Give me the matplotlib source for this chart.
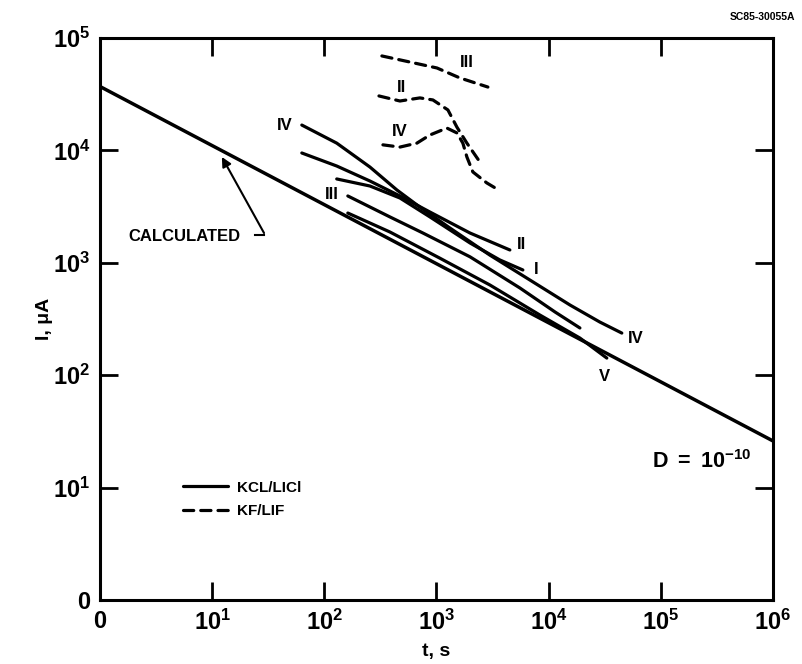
import numpy as np
import matplotlib.pyplot as plt

plt.rcParams['font.family'] = ['Liberation Sans', 'DejaVu Sans']
plt.rcParams['font.weight'] = 'bold'
plt.rcParams['axes.labelweight'] = 'bold'
plt.rcParams['mathtext.fontset'] = 'custom'
plt.rcParams['mathtext.rm'] = 'Liberation Sans:bold'
plt.rcParams['mathtext.it'] = 'Liberation Sans:bold'
plt.rcParams['mathtext.bf'] = 'Liberation Sans:bold'
plt.rcParams['mathtext.default'] = 'rm'

# calculated curve, D = 1e-10
calc_t = [1, 1e6]
calc_i = [3.7e4, 26]

# KCl/LiCl runs (solid)
t_iv = [63, 129, 255, 444, 711, 1316, 2992, 6.8e3, 1.55e4, 2.86e4, 4.49e4]
i_iv = [1.68e4, 1.16e4, 7.11e3, 4.44e3, 3.13e3, 2.04e3, 1.17e3, 703, 421, 297, 237]
t_ii = [63, 129, 255, 472, 873, 1990, 4510]
i_ii = [9.48e3, 7.26e3, 5.34e3, 3.93e3, 2.83e3, 1.84e3, 1.30e3]
t_i = [129, 255, 472, 873, 1990, 3670, 5890]
i_i = [5.57e3, 4.82e3, 3.77e3, 2.56e3, 1.50e3, 1.06e3, 863]
t_iii = [162, 384, 757, 1990, 5540, 1.14e4, 1.90e4]
i_iii = [3.93e3, 2.56e3, 1.84e3, 1.13e3, 597, 365, 263]
t_v = [162, 384, 1070, 2990, 8350, 1.90e4, 3.30e4]
i_v = [2.77e3, 1.88e3, 1.10e3, 635, 343, 214, 142]

# KF/LiF runs (dashed)
tf_iii = [326, 579, 1009, 1617, 2872]
if_iii = [6.92e4, 6.11e4, 5.41e4, 4.41e4, 3.66e4]
tf_ii = [307, 472, 711, 929, 1264, 1521, 1867, 2438]
if_ii = [3.05e4, 2.75e4, 2.93e4, 2.81e4, 2.29e4, 1.61e4, 1.16e4, 7.88e3]
tf_iv = [333, 472, 669, 873, 1238, 1521, 1719, 1867, 2110, 2812, 3452]
if_iv = [1.12e4, 1.07e4, 1.16e4, 1.37e4, 1.58e4, 1.43e4, 1.16e4, 8.73e3, 6.43e3, 5.13e3, 4.54e3]

xticks = [1, 1e1, 1e2, 1e3, 1e4, 1e5, 1e6]
xlabels = ['0', '$10^{1}$', '$10^{2}$', '$10^{3}$', '$10^{4}$', '$10^{5}$', '$10^{6}$']
yticks = [1, 1e1, 1e2, 1e3, 1e4, 1e5]
ylabels = ['0', '$10^{1}$', '$10^{2}$', '$10^{3}$', '$10^{4}$', '$10^{5}$']

fig = plt.figure(figsize=(8.02, 6.64), dpi=100)
ax = fig.add_axes([0.1247, 0.0964, 0.8391, 0.8464])

lw = 2.3
kw = dict(color='black', lw=lw, solid_capstyle='round', solid_joinstyle='round')
dkw = dict(color='black', lw=lw, ls=(0, (3.2, 2.2)), dash_capstyle='round')

ax.plot(calc_t, calc_i, color='black', lw=2.5)
ax.plot(t_iv, i_iv, label='KCL/LICl', **kw)
ax.plot(t_ii, i_ii, **kw)
ax.plot(t_i, i_i, **kw)
ax.plot(t_iii, i_iii, **kw)
ax.plot(t_v, i_v, **kw)

ax.plot(tf_iii, if_iii, label='KF/LIF', **dkw)
ax.plot(tf_ii, if_ii, **dkw)
ax.plot(tf_iv, if_iv, **dkw)

# curve labels
fs = 12
ax.text(44.6, 1.68e4, 'IV', fontsize=fs, ha='center', va='center')
ax.text(117, 4.01e3, 'III', fontsize=fs, ha='center', va='center')
ax.text(5.77e3, 1.44e3, 'II', fontsize=fs, ha='center', va='center')
ax.text(7.69e3, 863, 'I', fontsize=fs, ha='center', va='center')
ax.text(5.98e4, 214, 'IV', fontsize=fs, ha='center', va='center')
ax.text(3.17e4, 98, 'V', fontsize=fs, ha='center', va='center')
ax.text(1.87e3, 6.0e4, 'III', fontsize=fs, ha='center', va='center')
ax.text(492, 3.66e4, 'II', fontsize=fs, ha='center', va='center')
ax.text(472, 1.46e4, 'IV', fontsize=fs, ha='center', va='center')

# calculated pointer
ax.text(1.78, 1.73e3, 'CALCULATED', fontsize=12, ha='left', va='center')
ax.plot([24.1, 29.0], [1.77e3, 1.77e3], color='black', lw=1.5)
ax.annotate('', xy=(12.2, 8.74e3), xytext=(29.0, 1.84e3),
            arrowprops=dict(arrowstyle='-|>', color='black', lw=1.5,
                            mutation_scale=14, shrinkA=0, shrinkB=0))

ax.text(2.3e5, 16.9, '$D\\ =\\ 10^{-10}$', fontsize=15.5, ha='center', va='center')

ax.set_xscale('log')
ax.set_yscale('log')
ax.set_xlim(1, 1e6)
ax.set_ylim(1, 1e5)
ax.set_xticks(xticks, xlabels, fontsize=17)
ax.set_yticks(yticks, ylabels, fontsize=17)
ax.minorticks_off()
ax.tick_params(direction='in', length=13, width=2, top=True, right=True, pad=7)
for s in ax.spines.values():
    s.set_linewidth(2.2)

ax.set_xlabel('t, s', fontsize=14, labelpad=6)
ax.set_ylabel('I, \u03bcA', fontsize=14, labelpad=0)

ax.legend(loc='upper left', bbox_to_anchor=(0.124, 0.212), frameon=False,
          fontsize=11, handlelength=2.9, handletextpad=0.6, labelspacing=0.6,
          borderpad=0, borderaxespad=0)

fig.text(0.992, 0.975, 'SC85-30055A', fontsize=7.5, ha='right', va='center')

fig.savefig('out.png', dpi=100)
